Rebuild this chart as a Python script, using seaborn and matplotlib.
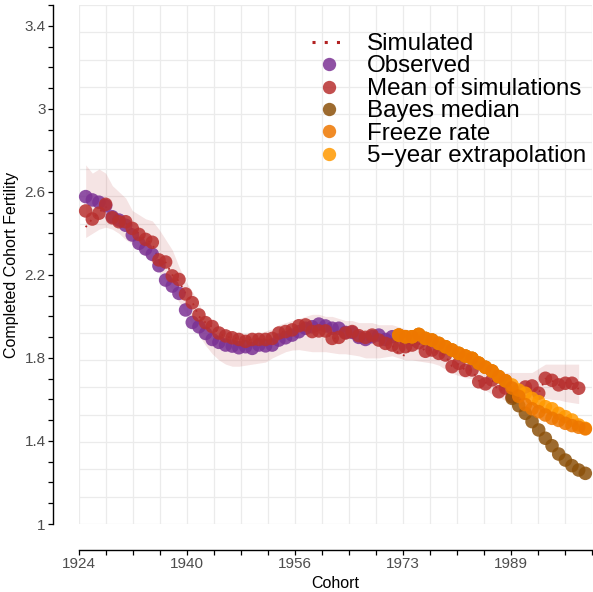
import numpy as np
import pandas as pd
import matplotlib
matplotlib.use("Agg")
import matplotlib.pyplot as plt
import seaborn as sns
from matplotlib.lines import Line2D

# ---------------- data ----------------
obs_cohort = list(range(1925, 1972))
obs_tfr = [2.577, 2.561, 2.550, 2.533, 2.480, 2.464, 2.439, 2.392, 2.352, 2.325,
           2.299, 2.244, 2.175, 2.146, 2.111, 2.031, 1.971, 1.950, 1.918, 1.889,
           1.875, 1.862, 1.857, 1.849, 1.854, 1.846, 1.862, 1.858, 1.862, 1.886,
           1.897, 1.910, 1.926, 1.943, 1.950, 1.963, 1.954, 1.943, 1.943, 1.923,
           1.923, 1.899, 1.889, 1.902, 1.910, 1.889, 1.902]

sim_cohort = list(range(1925, 2000))
mean_tfr = [2.508, 2.469, 2.497, 2.540, 2.475, 2.456, 2.456, 2.424, 2.395, 2.371,
            2.357, 2.272, 2.262, 2.195, 2.178, 2.108, 2.066, 2.007, 1.970, 1.951,
            1.920, 1.906, 1.897, 1.889, 1.880, 1.889, 1.889, 1.889, 1.894, 1.920,
            1.927, 1.935, 1.955, 1.959, 1.927, 1.930, 1.930, 1.894, 1.899, 1.920,
            1.927, 1.907, 1.899, 1.910, 1.886, 1.870, 1.862, 1.850, 1.854, 1.862,
            1.873, 1.832, 1.838, 1.822, 1.814, 1.758, 1.774, 1.740, 1.742, 1.685,
            1.675, 1.694, 1.637, 1.655, 1.613, 1.620, 1.660, 1.665, 1.630, 1.702,
            1.692, 1.670, 1.678, 1.678, 1.654]
sim_tfr = [2.430, 2.470, 2.500, 2.530, 2.470, 2.450, 2.450, 2.420, 2.400, 2.370,
           2.350, 2.270, 2.260, 2.200, 2.170, 2.110, 2.070, 2.000, 1.970, 1.950,
           1.920, 1.900, 1.900, 1.890, 1.880, 1.890, 1.890, 1.890, 1.890, 1.920,
           1.930, 1.940, 1.950, 1.950, 1.930, 1.930, 1.930, 1.890, 1.900, 1.920,
           1.930, 1.910, 1.900, 1.910, 1.890, 1.870, 1.860, 1.820, 1.810, 1.860,
           1.870, 1.830, 1.840, 1.820, 1.810, 1.760, 1.770, 1.740, 1.740, 1.690,
           1.680, 1.690, 1.640, 1.650, 1.610, 1.620, 1.660, 1.660, 1.630, 1.700,
           1.690, 1.670, 1.680, 1.680, 1.650]
band_upper = [2.73, 2.69, 2.71, 2.69, 2.63, 2.60, 2.57, 2.51, 2.49, 2.47,
              2.46, 2.42, 2.37, 2.32, 2.24, 2.17, 2.12, 2.06, 2.00, 1.97,
              1.95, 1.93, 1.92, 1.91, 1.91, 1.92, 1.92, 1.93, 1.94, 1.96,
              1.97, 1.98, 1.99, 2.00, 2.01, 2.01, 2.00, 2.00, 1.99, 1.98,
              1.98, 1.97, 1.97, 1.97, 1.96, 1.96, 1.96, 1.95, 1.94, 1.93,
              1.92, 1.91, 1.90, 1.88, 1.86, 1.84, 1.82, 1.80, 1.79, 1.78,
              1.77, 1.75, 1.74, 1.73, 1.73, 1.73, 1.73, 1.73, 1.75, 1.77,
              1.77, 1.77, 1.77, 1.77, 1.77]
band_lower = [2.38, 2.40, 2.42, 2.43, 2.42, 2.40, 2.37, 2.35, 2.32, 2.29,
              2.26, 2.22, 2.17, 2.13, 2.07, 2.02, 1.96, 1.91, 1.86, 1.82,
              1.79, 1.77, 1.76, 1.76, 1.765, 1.77, 1.775, 1.78, 1.80, 1.815,
              1.83, 1.838, 1.84, 1.835, 1.83, 1.83, 1.83, 1.825, 1.82, 1.82,
              1.815, 1.81, 1.80, 1.80, 1.80, 1.805, 1.81, 1.80, 1.79, 1.79,
              1.785, 1.78, 1.775, 1.765, 1.745, 1.727, 1.715, 1.705, 1.70, 1.68,
              1.645, 1.625, 1.61, 1.595, 1.58, 1.59, 1.60, 1.605, 1.605, 1.605,
              1.60, 1.598, 1.59, 1.585, 1.58]

fc_cohort = list(range(1972, 2001))
bayes_tfr = [1.910, 1.902, 1.902, 1.913, 1.894, 1.886, 1.870, 1.854, 1.838, 1.822,
             1.809, 1.798, 1.775, 1.755, 1.737, 1.710, 1.690,
             1.605, 1.570, 1.533, 1.493, 1.453, 1.413, 1.377, 1.337, 1.308, 1.281,
             1.260, 1.244]
freeze_tfr = [1.910, 1.902, 1.902, 1.913, 1.894, 1.886, 1.870, 1.854, 1.838, 1.822,
              1.809, 1.798, 1.775, 1.755, 1.737, 1.710, 1.690,
              1.655, 1.615, 1.575, 1.555, 1.541, 1.525, 1.509, 1.499, 1.485, 1.474,
              1.466, 1.458]
extrap_tfr = [1.910, 1.902, 1.902, 1.913, 1.894, 1.886, 1.870, 1.854, 1.838, 1.822,
              1.809, 1.798, 1.775, 1.755, 1.737, 1.710, 1.690, 1.670, 1.645, 1.630,
              1.605, 1.589, 1.565, 1.555, 1.533, 1.517, 1.501, 1.477, 1.461]

x_tick_labels = ["1924", "1940", "1956", "1973", "1989"]
y_tick_labels = ["1", "1.4", "1.8", "2.2", "2.6", "3", "3.4"]

labels = ["Simulated", "Observed", "Mean of simulations", "Bayes median",
          "Freeze rate", "5\u2212year extrapolation"]
colors = {"Simulated": "#B22222", "Observed": "#7B3294",
          "Mean of simulations": "#B8302F", "Bayes median": "#8C510A",
          "Freeze rate": "#EE7700", "5\u2212year extrapolation": "#FF9900"}

# ---------------- styling ----------------
sns.set_theme(style="white")
plt.rcParams["font.family"] = ["Liberation Sans", "DejaVu Sans"]

W, H = 593, 592
fig = plt.figure(figsize=(W / 100, H / 100), dpi=100)
ax = fig.add_axes([79 / W, 68 / H, 513 / W, 519 / H])

XMIN, XMAX, YMIN, YMAX = 1924, 2001, 1.0, 3.5
ax.set_xlim(XMIN, XMAX)
ax.set_ylim(YMIN, YMAX)

# background grid
for gx in np.linspace(XMIN, XMAX, 20):
    ax.axvline(gx, color="#ebebeb", lw=0.9, zorder=0)
for gy in np.linspace(YMIN, YMAX, 20):
    ax.axhline(gy, color="#ebebeb", lw=0.9, zorder=0)

sim_df = pd.DataFrame({"cohort": sim_cohort, "mean": mean_tfr, "sim": sim_tfr,
                       "lo": band_lower, "hi": band_upper})
obs_df = pd.DataFrame({"cohort": obs_cohort, "tfr": obs_tfr})
fc_df = pd.DataFrame({"cohort": fc_cohort, "bayes": bayes_tfr,
                      "freeze": freeze_tfr, "extrap": extrap_tfr})

ax.fill_between(sim_df["cohort"], sim_df["lo"], sim_df["hi"],
                color="#B22222", alpha=0.12, lw=0, zorder=1)
sns.lineplot(data=sim_df, x="cohort", y="sim", ax=ax, color=colors["Simulated"],
             lw=1.3, linestyle=(0, (1, 3)), zorder=2, legend=False)

S = 95
common = dict(s=S, alpha=0.85, edgecolor="none", legend=False, clip_on=False)
sns.scatterplot(data=obs_df, x="cohort", y="tfr", ax=ax,
                color=colors["Observed"], zorder=3, **common)
sns.scatterplot(data=sim_df, x="cohort", y="mean", ax=ax,
                color=colors["Mean of simulations"], zorder=4, **common)
sns.scatterplot(data=fc_df, x="cohort", y="bayes", ax=ax,
                color=colors["Bayes median"], zorder=5, **common)
sns.scatterplot(data=fc_df, x="cohort", y="extrap", ax=ax,
                color=colors["5\u2212year extrapolation"], zorder=6, **common)
sns.scatterplot(data=fc_df, x="cohort", y="freeze", ax=ax,
                color=colors["Freeze rate"], zorder=7, **common)

# axes: offset range-frame spines
for s in ["top", "right"]:
    ax.spines[s].set_visible(False)
for s in ["left", "bottom"]:
    ax.spines[s].set_position(("outward", 18.7))
    ax.spines[s].set_color("black")
    ax.spines[s].set_linewidth(1.0)
ax.spines["left"].set_bounds(YMIN, YMAX)
ax.spines["bottom"].set_bounds(XMIN, XMAX)

xt = np.linspace(XMIN, XMAX, 20)
xl = []
k = 0
for i in range(len(xt)):
    if i % 4 == 0 and k < len(x_tick_labels):
        xl.append(x_tick_labels[k]); k += 1
    else:
        xl.append("")
ax.set_xticks(xt, xl)

yt = np.round(np.arange(YMIN, YMAX + 0.001, 0.1), 2)
yl = []
k = 0
for i in range(len(yt)):
    if i % 4 == 0 and k < len(y_tick_labels):
        yl.append(y_tick_labels[k]); k += 1
    else:
        yl.append("")
ax.set_yticks(yt, yl)

ax.tick_params(axis="both", which="major", direction="out", length=3.3, width=0.9,
               color="black", labelcolor="#4d4d4d", labelsize=11, pad=2,
               bottom=True, left=True)
ax.grid(False)

ax.set_xlabel("Cohort", fontsize=11.5, color="black", labelpad=3)
ax.set_ylabel("Completed Cohort Fertility", fontsize=11.5, color="black", labelpad=4)

# legend
handles = [Line2D([], [], color=colors["Simulated"], lw=2.2, linestyle=(0, (1, 3)))]
for lab in labels[1:]:
    handles.append(Line2D([], [], marker="o", ls="", markersize=9.6,
                          markerfacecolor=colors[lab], markeredgecolor="none",
                          alpha=0.85))
leg = fig.legend(handles, labels, loc="upper left",
                 bbox_to_anchor=(312 / W, 1 - 33 / H), frameon=False,
                 fontsize=17.4, handlelength=1.37, handletextpad=0.91,
                 labelspacing=0.02, borderpad=0, borderaxespad=0)
for t in leg.get_texts():
    t.set_color("black")

fig.savefig("out.png", dpi=100)
